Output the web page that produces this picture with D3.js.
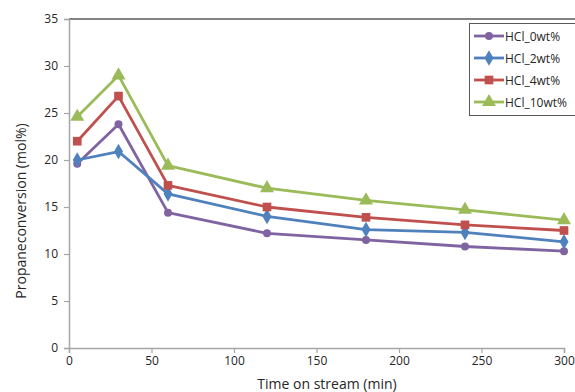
<!DOCTYPE html>
<html><head><meta charset="utf-8">
<script src="https://cdn.jsdelivr.net/npm/d3@7/dist/d3.min.js"></script>
<style>body{margin:0;background:#fff;}svg{display:block;font-family:"Open Sans","Noto Sans",sans-serif;}</style>
</head><body><svg id="c" width="575" height="392"></svg>
<script>
const times = [5, 30, 60, 120, 180, 240, 300];
const seriesNames = ["HCl_0wt%", "HCl_2wt%", "HCl_4wt%", "HCl_10wt%"];
const hcl0 = [19.6, 23.8, 14.4, 12.2, 11.5, 10.8, 10.3];
const hcl2 = [20.0, 20.9, 16.4, 14.0, 12.6, 12.3, 11.3];
const hcl4 = [22.0, 26.8, 17.3, 15.0, 13.9, 13.1, 12.5];
const hcl10 = [24.6, 29.0, 19.4, 17.0, 15.7, 14.7, 13.6];
const xTicks = [0, 50, 100, 150, 200, 250, 300];
const yTicks = [0, 5, 10, 15, 20, 25, 30, 35];
const colors = ["#8064A2", "#4F81BD", "#C0504D", "#9BBB59"];
const shapes = [d3.symbolCircle, d3.symbolDiamond, d3.symbolSquare, d3.symbolTriangle];
const sizes = [50, 70, 75, 85];
const allSeries = [hcl0, hcl2, hcl4, hcl10];

const svg = d3.select("#c");
const x = d3.scaleLinear().domain([0, 300]).range([69, 564]);
const y = d3.scaleLinear().domain([0, 35]).range([348, 19]);

// top border
svg.append("line").attr("x1", 69).attr("x2", 575).attr("y1", 19).attr("y2", 19)
  .attr("stroke", "#595959").attr("stroke-width", 1.5);

const yAxis = svg.append("g").attr("transform", "translate(69,0)")
  .call(d3.axisLeft(y).tickValues(yTicks).tickSize(5).tickPadding(6));
const xAxis = svg.append("g").attr("transform", "translate(0,348)")
  .call(d3.axisBottom(x).tickValues(xTicks).tickSize(5).tickPadding(3));
[yAxis, xAxis].forEach(a => {
  a.select(".domain").attr("stroke", "#a6a6a6").attr("stroke-width", 1.5);
  a.selectAll(".tick line").attr("stroke", "#a6a6a6").attr("stroke-width", 1.2);
  a.selectAll("text").attr("fill", "#262626").attr("font-size", 12)
   .attr("font-family", '"Open Sans","Noto Sans",sans-serif');
});

svg.append("text").attr("x", 327).attr("y", 389).attr("text-anchor", "middle")
  .attr("font-size", 14).attr("fill", "#262626").text("Time on stream (min)");
svg.append("text").attr("transform", "translate(26,211) rotate(-90)").attr("text-anchor", "middle")
  .attr("font-size", 14).attr("fill", "#262626").text("Propaneconversion (mol%)");

const line = d3.line().x((d, i) => x(times[i])).y(d => y(d));
allSeries.forEach((s, k) => {
  svg.append("path").datum(s).attr("d", line).attr("fill", "none")
    .attr("stroke", colors[k]).attr("stroke-width", 2.8).attr("stroke-linejoin", "round");
});
allSeries.forEach((s, k) => {
  svg.append("g").selectAll("path").data(s).join("path")
    .attr("transform", (d, i) => `translate(${x(times[i])},${y(d)})`)
    .attr("d", d3.symbol().type(shapes[k]).size(sizes[k]))
    .attr("fill", colors[k]);
});

// legend
const lg = svg.append("g");
lg.append("rect").attr("x", 469.5).attr("y", 23.5).attr("width", 110).attr("height", 92)
  .attr("fill", "#fff").attr("stroke", "#595959").attr("stroke-width", 1);
seriesNames.forEach((n, k) => {
  const yy = 36 + k * 22;
  lg.append("line").attr("x1", 474).attr("x2", 504).attr("y1", yy).attr("y2", yy)
    .attr("stroke", colors[k]).attr("stroke-width", 2.8);
  lg.append("path").attr("transform", `translate(489,${yy})`)
    .attr("d", d3.symbol().type(shapes[k]).size(sizes[k])).attr("fill", colors[k]);
  lg.append("text").attr("x", 505).attr("y", yy + 4.5).attr("font-size", 12)
    .attr("fill", "#262626").text(n);
});
</script></body></html>
